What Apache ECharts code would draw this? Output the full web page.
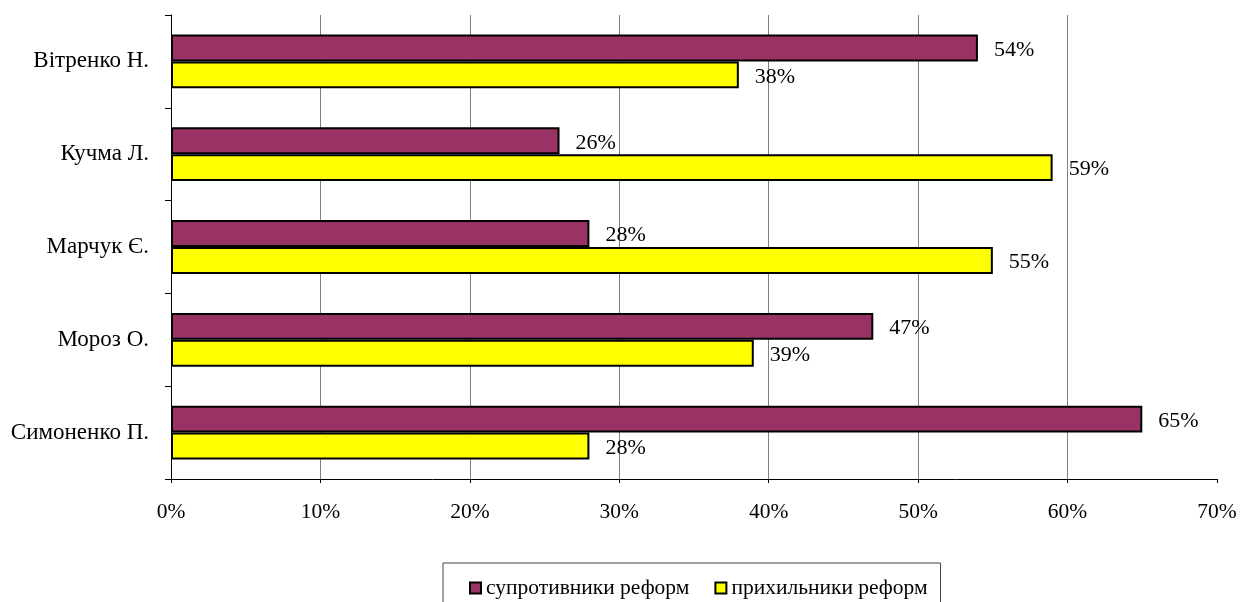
<!DOCTYPE html>
<html>
<head>
<meta charset="utf-8">
<script src="https://cdn.jsdelivr.net/npm/echarts@6/dist/echarts.min.js"></script>
<style>
  html, body { margin: 0; padding: 0; background: #fff; }
  #chart { width: 1240px; height: 602px; }
</style>
</head>
<body>
<div id="chart"></div>
<script>
// дані з діаграми
var candidates = ['Вітренко Н.', 'Кучма Л.', 'Марчук Є.', 'Мороз О.', 'Симоненко П.'];
var opponents = [54, 26, 28, 47, 65];   // супротивники реформ
var supporters = [38, 59, 55, 39, 28];  // прихильники реформ
var seriesNames = ['супротивники реформ', 'прихильники реформ'];

var font = 'Liberation Serif';

// сітка: останню лінію (70%) не малюємо
var gridColors = ['#808080', '#808080', '#808080', '#808080', '#808080', '#808080', '#808080', 'rgba(0,0,0,0)'];

var barLabel = {
  show: true,
  position: 'right',
  distance: 16,
  offset: [0, 2],
  formatter: '{c}%',
  fontFamily: font,
  fontSize: 22,
  color: '#000'
};

var option = {
  animation: false,
  backgroundColor: '#fff',
  textStyle: { fontFamily: font, color: '#000' },
  grid: { left: 171, right: 23, top: 15, bottom: 123 },
  legend: {
    left: 443,
    top: 563,
    padding: [14, 13, 20, 26],
    itemGap: 25,
    itemWidth: 11,
    itemHeight: 11,
    icon: 'rect',
    borderColor: '#444',
    borderWidth: 1,
    textStyle: { fontFamily: font, fontSize: 21.5, color: '#000' },
    data: seriesNames
  },
  xAxis: {
    type: 'value',
    min: 0,
    max: 70,
    interval: 10,
    axisLine: { show: true, lineStyle: { color: '#000', width: 1 } },
    axisTick: { show: true, length: 4, lineStyle: { color: '#000' } },
    axisLabel: { formatter: '{value}%', margin: 22, fontFamily: font, fontSize: 21.5, color: '#000' },
    splitLine: { show: true, lineStyle: { color: gridColors, width: 1 } }
  },
  yAxis: {
    type: 'category',
    inverse: true,
    data: candidates,
    axisLine: { show: true, lineStyle: { color: '#000', width: 1 } },
    axisTick: { show: true, length: 6, lineStyle: { color: '#000' } },
    axisLabel: { margin: 22, fontFamily: font, fontSize: 23, color: '#000' },
    splitLine: { show: false }
  },
  series: [
    {
      name: seriesNames[0],
      type: 'bar',
      data: opponents,
      barGap: '0%',
      barCategoryGap: '42%',
      itemStyle: { color: '#993366', borderColor: '#000', borderWidth: 2 },
      label: barLabel
    },
    {
      name: seriesNames[1],
      type: 'bar',
      data: supporters,
      barGap: '0%',
      barCategoryGap: '42%',
      itemStyle: { color: '#ffff00', borderColor: '#000', borderWidth: 2 },
      label: barLabel
    }
  ]
};

var myChart = echarts.init(document.getElementById('chart'));
myChart.setOption(option);
</script>
</body>
</html>
